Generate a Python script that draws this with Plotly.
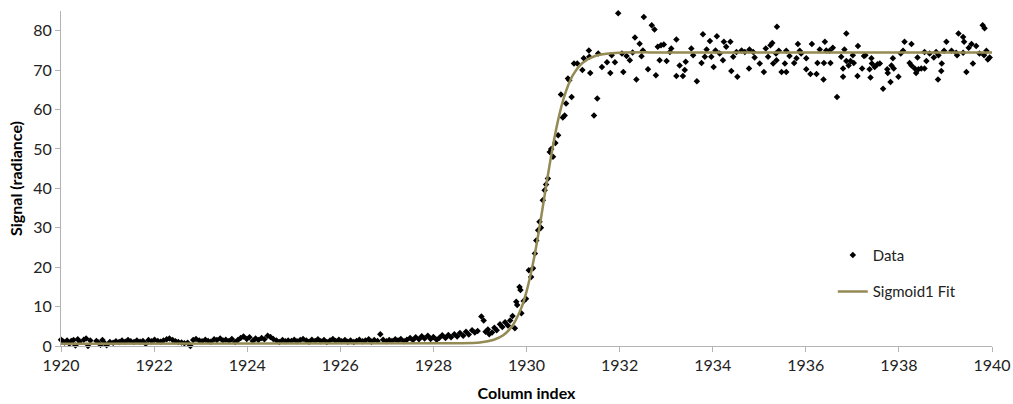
import plotly.graph_objects as go

# ---- data ----
data_x = [
    1920.00, 1920.04, 1920.08, 1920.13, 1920.18, 1920.22, 1920.27, 1920.31, 1920.36, 1920.40,
    1920.45, 1920.49, 1920.54, 1920.58, 1920.63, 1920.76, 1920.80, 1920.85, 1920.89, 1920.94,
    1920.98, 1921.05, 1921.12, 1921.18, 1921.25, 1921.31, 1921.38, 1921.44, 1921.50, 1921.57,
    1921.63, 1921.70, 1921.76, 1921.82, 1921.88, 1921.95, 1922.01, 1922.08, 1922.14, 1922.20,
    1922.27, 1922.33, 1922.40, 1922.46, 1922.52, 1922.59, 1922.65, 1922.72, 1922.78, 1922.84,
    1922.90, 1922.97, 1923.03, 1923.10, 1923.16, 1923.22, 1923.29, 1923.35, 1923.42, 1923.48,
    1923.54, 1923.61, 1923.67, 1923.74, 1923.80, 1923.86, 1923.92, 1923.99, 1924.05, 1924.12,
    1924.18, 1924.24, 1924.31, 1924.37, 1924.44, 1924.50, 1924.56, 1924.63, 1924.69, 1924.76,
    1924.82, 1924.88, 1924.95, 1925.01, 1925.07, 1925.14, 1925.20, 1925.27, 1925.33, 1925.39,
    1925.46, 1925.52, 1925.58, 1925.65, 1925.71, 1925.78, 1925.84, 1925.90, 1925.97, 1926.03,
    1926.10, 1926.16, 1926.22, 1926.29, 1926.35, 1926.41, 1926.48, 1926.54, 1926.61, 1926.67,
    1926.73, 1926.80, 1926.86, 1926.92, 1926.99, 1927.05, 1927.11, 1927.18, 1927.24, 1927.30,
    1927.37, 1927.43, 1927.50, 1927.56, 1927.62, 1927.69, 1927.75, 1927.81, 1927.88, 1927.94,
    1928.00, 1928.07, 1928.13, 1928.19, 1928.26, 1928.32, 1928.38, 1928.45, 1928.51, 1928.57,
    1928.64, 1928.70, 1928.76, 1928.83, 1928.89, 1928.95,
    1929.03, 1929.08, 1929.12, 1929.17, 1929.20, 1929.26, 1929.31, 1929.36, 1929.43, 1929.48,
    1929.54, 1929.60, 1929.65, 1929.70, 1929.75, 1929.78, 1929.80, 1929.85, 1929.87, 1929.89,
    1929.94, 1929.99, 1930.05, 1930.10, 1930.14, 1930.18, 1930.21, 1930.25, 1930.28, 1930.31,
    1930.35, 1930.39, 1930.42, 1930.46, 1930.50, 1930.53, 1930.57, 1930.62, 1930.68, 1930.74,
    1930.78, 1930.82, 1930.85, 1930.89, 1930.92, 1930.97, 1931.02, 1931.09, 1931.20, 1931.23,
    1931.34, 1931.35, 1931.37, 1931.45, 1931.52, 1931.54, 1931.62, 1931.73, 1931.80, 1931.83,
    1931.90, 1931.97, 1932.05, 1932.08, 1932.15, 1932.22, 1932.28, 1932.33, 1932.36, 1932.43,
    1932.47, 1932.50, 1932.52, 1932.61, 1932.69, 1932.75, 1932.78, 1932.82, 1932.86, 1932.89,
    1932.95, 1933.01, 1933.08, 1933.11, 1933.22, 1933.22, 1933.29, 1933.36, 1933.40, 1933.42,
    1933.54, 1933.58, 1933.66, 1933.76, 1933.79, 1933.83, 1933.87, 1933.94, 1933.97, 1934.02,
    1934.06, 1934.09, 1934.15, 1934.22, 1934.24, 1934.29, 1934.38, 1934.40, 1934.44, 1934.51,
    1934.53, 1934.62, 1934.69, 1934.78, 1934.79, 1934.87, 1934.90, 1935.01, 1935.10, 1935.14,
    1935.19, 1935.24, 1935.28, 1935.30, 1935.38, 1935.42, 1935.36, 1935.37, 1935.48, 1935.55,
    1935.58, 1935.58, 1935.65, 1935.75, 1935.80, 1935.83, 1935.87, 1935.90, 1936.01, 1936.01,
    1936.10, 1936.13, 1936.23, 1936.25, 1936.30, 1936.38, 1936.39, 1936.41, 1936.44, 1936.51,
    1936.53, 1936.58, 1936.67, 1936.76, 1936.80, 1936.80, 1936.83, 1936.87, 1936.87, 1936.92,
    1936.96, 1937.01, 1937.03, 1937.11, 1937.12, 1937.21, 1937.25, 1937.28, 1937.37, 1937.39,
    1937.41, 1937.42, 1937.48, 1937.54, 1937.59, 1937.66, 1937.75, 1937.76, 1937.82, 1937.84,
    1937.87, 1937.89, 1937.99, 1938.04, 1938.09, 1938.12, 1938.23, 1938.27, 1938.27, 1938.34,
    1938.37, 1938.40, 1938.42, 1938.48, 1938.55, 1938.55, 1938.59, 1938.66, 1938.75, 1938.80,
    1938.84, 1938.85, 1938.91, 1938.92, 1938.97, 1939.02, 1939.13, 1939.23, 1939.25, 1939.28,
    1939.38, 1939.40, 1939.38, 1939.45, 1939.50, 1939.56, 1939.59, 1939.66, 1939.73, 1939.80,
    1939.84, 1939.83, 1939.88, 1939.91, 1939.95,
]
data_y = [
    1.6, 1.2, 0.9, 1.4, 0.6, 1.3, 1.5, 0.1, 1.7, 1.1,
    -0.2, 1.6, 1.9, 0.0, 1.4, 1.3, 0.9, 0.3, 1.5, 0.7,
    0.2, 1.0, 0.8, 1.2, 1.0, 1.4, 1.1, 1.5, 1.2, 1.0,
    1.4, 1.1, 1.3, 0.6, 1.5, 1.2, 1.6, 1.3, 1.1, 1.4,
    1.7, 1.9, 1.5, 1.2, 1.0, 0.9, 0.7, 0.8, 0.0, 1.5,
    1.8, 1.4, 1.2, 1.6, 1.3, 1.1, 1.7, 1.5, 1.9, 1.4,
    1.6, 1.3, 1.8, 1.0, 1.5, 2.0, 2.4, 1.8, 2.2, 1.3,
    1.9, 1.5, 2.0, 1.7, 2.6, 2.3, 1.8, 1.4, 1.0, 1.5,
    1.2, 1.4, 1.3, 1.6, 1.2, 1.5, 1.8, 1.4, 1.1, 1.6,
    1.3, 1.7, 1.2, 1.5, 1.0, 1.4, 1.8, 1.3, 1.6, 1.2,
    1.5, 1.1, 1.4, 1.0, 1.3, 1.6, 1.2, 1.4, 1.7, 1.1,
    1.5, 1.3, 3.0, 1.6, 1.2, 1.5, 1.3, 1.7, 1.4, 1.8,
    1.2, 1.6, 2.0, 1.5, 2.2, 1.7, 2.5, 1.9, 2.6, 1.8,
    2.3, 1.6, 2.1, 2.7, 2.0, 2.8, 2.2, 3.0, 2.4, 3.3,
    2.6, 3.6, 2.9, 4.0, 3.4, 3.8,
    7.5, 6.5, 3.6, 4.2, 3.0, 3.4, 4.6, 4.0, 5.5, 4.8,
    6.0, 5.2, 6.5, 7.6, 4.5, 11.2, 10.4, 15.0, 14.2, 8.3,
    11.4, 12.0, 19.2, 17.5, 19.7, 23.5, 26.8, 29.4, 31.5, 30.0,
    37.0, 39.5, 41.0, 42.5, 49.2, 50.0, 48.0, 51.5, 53.5, 63.8,
    58.0, 58.5, 61.5, 67.9, 67.4, 63.2, 71.7, 71.7, 70.0, 73.0,
    75.0, 73.4, 69.3, 58.5, 62.8, 74.2, 70.8, 72.0, 69.3, 73.8,
    72.0, 84.4, 74.2, 69.5, 73.6, 72.5, 74.5, 78.3, 67.6, 76.7,
    73.5, 75.0, 83.5, 70.2, 81.4, 80.3, 68.7, 75.9, 72.5, 76.3,
    76.5, 72.3, 74.6, 75.5, 77.8, 68.5, 71.2, 68.5, 70.0, 72.1,
    75.5, 73.8, 67.2, 71.8, 79.1, 73.4, 75.2, 77.4, 73.4, 70.8,
    75.0, 78.6, 74.2, 72.5, 77.2, 75.9, 77.2, 69.8, 73.4, 74.6,
    68.3, 75.0, 74.6, 70.4, 75.2, 74.6, 73.2, 71.7, 69.5, 75.5,
    73.4, 76.3, 76.9, 71.7, 81.0, 74.9, 74.2, 72.5, 69.5, 71.7,
    69.5, 74.9, 73.6, 71.8, 73.0, 76.6, 74.9, 74.2, 70.2, 73.0,
    69.0, 76.6, 69.0, 71.8, 75.2, 67.6, 71.8, 77.2, 75.0, 74.9,
    71.8, 75.7, 63.2, 73.4, 68.3, 70.4, 75.2, 79.3, 72.3, 71.2,
    72.3, 73.8, 71.8, 68.5, 76.1, 70.4, 73.6, 73.8, 70.2, 68.1,
    73.0, 71.7, 70.8, 71.5, 71.7, 65.3, 70.2, 69.3, 67.0, 71.2,
    73.0, 70.4, 68.3, 74.2, 74.9, 77.2, 71.8, 76.6, 71.2, 70.4,
    69.3, 73.2, 70.2, 70.4, 70.4, 74.6, 72.3, 74.2, 73.2, 74.6,
    67.6, 73.8, 69.8, 71.7, 74.9, 77.2, 74.9, 74.4, 73.8, 79.3,
    78.4, 77.2, 74.4, 69.5, 75.7, 76.6, 71.7, 76.1, 74.2, 81.4,
    80.6, 73.8, 74.9, 72.7, 73.2,
]

fit_x = [1920.0, 1928.5, 1929.0, 1929.3, 1929.5, 1929.7, 1929.9, 1930.0, 1930.1, 1930.2,
         1930.3, 1930.4, 1930.5, 1930.6, 1930.7, 1930.8, 1930.9, 1931.0, 1931.2, 1931.5,
         1932.0, 1933.0, 1940.0]
fit_y = [0.6, 0.7, 0.9, 1.6, 2.7, 5.2, 10.0, 13.8, 18.7, 24.7,
         31.6, 39.0, 46.2, 52.8, 58.4, 62.9, 66.3, 68.8, 71.8, 73.7,
         74.4, 74.5, 74.5]

x_ticks = [1920, 1922, 1924, 1926, 1928, 1930, 1932, 1934, 1936, 1938, 1940]
y_ticks = [0, 10, 20, 30, 40, 50, 60, 70, 80]

FONT = "Lato"
fig = go.Figure()
fig.add_trace(go.Scatter(
    x=data_x, y=data_y, mode="markers", name="Data",
    marker=dict(symbol="diamond", size=5, color="black"),
    cliponaxis=False, legendgroup="a",
))
fig.add_trace(go.Scatter(
    x=fit_x, y=fit_y, mode="lines", name="Sigmoid1 Fit",
    line=dict(color="#948A54", width=2.5, shape="spline", smoothing=0.8),
    legendgroup="b",
))

axis_common = dict(
    showgrid=False, zeroline=False, showline=True, linecolor="#B3B3B3", linewidth=1,
    ticks="outside", tickcolor="#B3B3B3", ticklen=5, automargin=False,
    tickfont=dict(family=FONT, size=16, color="#222222"),
)
fig.update_xaxes(range=[1920, 1940], tickvals=x_ticks,
                 title=dict(text="<b>Column index</b>", font=dict(family=FONT, size=16, color="black"), standoff=14),
                 **axis_common)
fig.update_yaxes(range=[0, 85], tickvals=y_ticks,
                 title=dict(text="<b>Signal (radiance)</b>", font=dict(family=FONT, size=16, color="black"), standoff=6),
                 **axis_common)

fig.update_layout(
    width=1013, height=404,
    margin=dict(l=61, r=21, t=11, b=58),
    plot_bgcolor="white", paper_bgcolor="white",
    legend=dict(x=0.829, y=0.32, xanchor="left", yanchor="top",
                font=dict(family=FONT, size=15, color="#222222"),
                tracegroupgap=14, bgcolor="rgba(0,0,0,0)"),
)

fig.write_html("out.html")
